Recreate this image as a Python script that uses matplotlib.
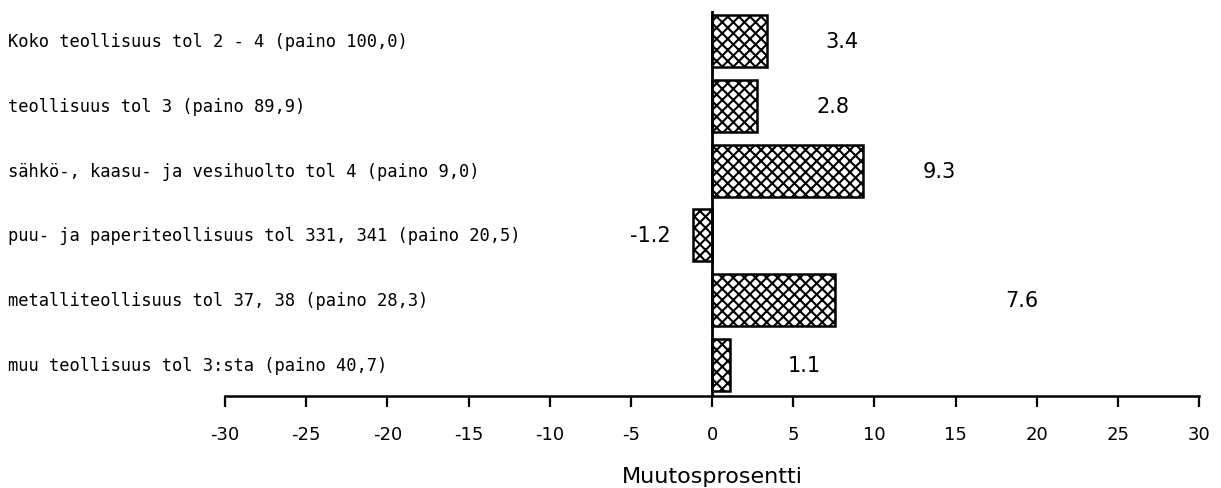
import matplotlib.pyplot as plt
import matplotlib.transforms as mtransforms
import numpy as np

# toimialat ja muutosprosentit
labels = [
    "Koko teollisuus tol 2 - 4 (paino 100,0)",
    "teollisuus tol 3 (paino 89,9)",
    "sähkö-, kaasu- ja vesihuolto tol 4 (paino 9,0)",
    "puu- ja paperiteollisuus tol 331, 341 (paino 20,5)",
    "metalliteollisuus tol 37, 38 (paino 28,3)",
    "muu teollisuus tol 3:sta (paino 40,7)",
]
values = [3.4, 2.8, 9.3, -1.2, 7.6, 1.1]
value_text = ["3.4", "2.8", "9.3", "-1.2", "7.6", "1.1"]
xticks = [-30, -25, -20, -15, -10, -5, 0, 5, 10, 15, 20, 25, 30]

# arvotekstien siirto palkin päästä (x-yksikköinä)
label_shift = [4.6, 4.65, 4.7, -2.6, 11.5, 4.6]

plt.rcParams['hatch.linewidth'] = 1.5
plt.rcParams['hatch.color'] = 'black'

W, H = 1221, 489
fig = plt.figure(figsize=(W / 100, H / 100), dpi=100)
ax = fig.add_axes([225 / W, 1 - 397 / H, (1199 - 225) / W, (397 - 12) / H])

y = np.arange(len(values))
ax.barh(y, values, height=0.8, color='white', edgecolor='black',
        linewidth=1.8, hatch='xxx')
ax.axvline(0, color='black', linewidth=2)

ax.set_xlim(-30, 30)
ax.set_ylim(len(values) - 0.52, -0.465)

for s in ['top', 'right', 'left']:
    ax.spines[s].set_visible(False)
ax.spines['bottom'].set_linewidth(1.8)
ax.set_yticks([])
ax.set_xticks(xticks)
ax.set_xticklabels([str(t) for t in xticks], fontsize=13, family='DejaVu Sans')
ax.tick_params(axis='x', direction='out', length=8, width=1.6, pad=13)

# arvot palkkien viereen
for yi, v, d, t in zip(y, values, label_shift, value_text):
    ax.text(v + d, yi, t, ha='center', va='center', fontsize=15,
            family='DejaVu Sans')

# toimialojen nimet vasemmalle
trans = mtransforms.blended_transform_factory(fig.transFigure, ax.transData)
for yi, lab in zip(y, labels):
    ax.text(8 / W, yi, lab, transform=trans, ha='left', va='center',
            fontsize=12.3, family='DejaVu Sans Mono')

fig.text(712 / W, 1 - 477 / H, "Muutosprosentti", ha='center', va='center',
         fontsize=16, family='DejaVu Sans')

fig.savefig('out.png', dpi=100)
